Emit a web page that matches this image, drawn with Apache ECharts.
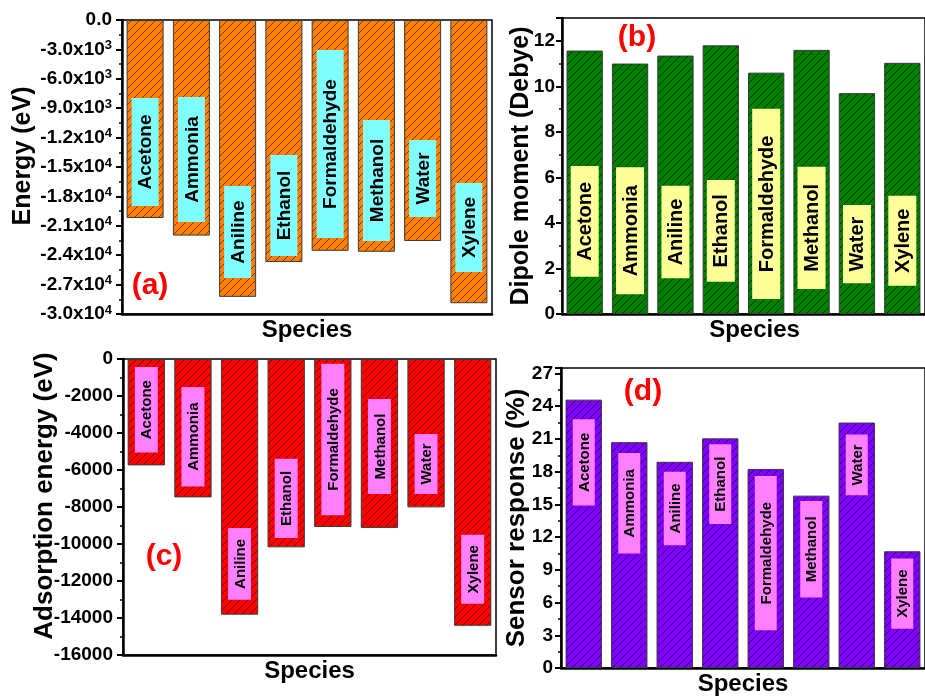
<!DOCTYPE html>
<html><head><meta charset="utf-8">
<script src="https://cdn.jsdelivr.net/npm/echarts@6/dist/echarts.min.js"></script>
<style>html,body{margin:0;padding:0;background:#fff}#c{width:925px;height:698px}</style>
</head><body><div id="c"></div>
<script>
const species = ['Acetone','Ammonia','Aniline','Ethanol','Formaldehyde','Methanol','Water','Xylene'];
// (a) Energy (eV)
const energy = [-20200, -22000, -28250, -24700, -23550, -23650, -22550, -28900];
const energyBoxTop = [-7950, -7860, -16940, -13780, -3060, -10200, -12250, -16630];
const energyBoxBottom = [-18980, -20610, -26330, -24080, -22250, -22550, -20100, -25710];
// (b) Dipole moment (Debye)
const dipole = [11.57, 11.0, 11.35, 11.8, 10.6, 11.6, 9.7, 11.03];
const dipoleBoxTop = [6.5, 6.44, 5.63, 5.89, 9.01, 6.47, 4.79, 5.19];
const dipoleBoxBottom = [1.64, 0.87, 1.57, 1.42, 0.66, 1.1, 1.35, 1.24];
// (c) Adsorption energy (eV)
const adsorption = [-5750, -7480, -13820, -10180, -9080, -9130, -8020, -14420];
const adsBoxTop = [-430, -1510, -9140, -5390, -250, -2160, -4050, -9500];
const adsBoxBottom = [-5050, -6890, -13010, -9680, -8450, -7300, -7300, -13230];
// (d) Sensor response (%)
const sensor = [24.6, 20.7, 18.9, 21.05, 18.25, 15.8, 22.5, 10.7];
const sensorBoxTop = [22.8, 19.7, 18.0, 20.5, 17.6, 15.3, 21.4, 10.04];
const sensorBoxBottom = [14.9, 10.5, 11.26, 13.2, 3.46, 6.46, 15.84, 3.6];

const FONT = 'Liberation Sans, Arial, sans-serif';

function hatch(base, line) {
  const s = 8;
  const c = document.createElement('canvas');
  c.width = s; c.height = s;
  const g = c.getContext('2d');
  g.fillStyle = base; g.fillRect(0, 0, s, s);
  g.strokeStyle = line; g.lineWidth = 1;
  g.beginPath();
  g.moveTo(-1, s + 1); g.lineTo(s + 1, -1);
  g.moveTo(-1, 1); g.lineTo(1, -1);
  g.moveTo(s - 1, s + 1); g.lineTo(s + 1, s - 1);
  g.stroke();
  return { image: c, repeat: 'repeat' };
}

function sciLabel(v) {
  if (v === 0) return '0.0';
  const e = Math.floor(Math.log10(Math.abs(v)) + 1e-9);
  const m = (v / Math.pow(10, e)).toFixed(1);
  return m + 'x10{sup|' + e + '}';
}
function plainLabel(v) { return String(v); }

const tickStyle = { fontSize: 19, fontWeight: 'bold', color: '#000', fontFamily: FONT };

function nameStyle(size, pad) {
  return { fontSize: size, fontWeight: 'bold', color: '#000', fontFamily: FONT, padding: pad || 0 };
}

function yAxis(gi, min, max, interval, name, nameGap, margin, nameSize, namePad, extraLabel) {
  return {
    type: 'value', gridIndex: gi, min: min, max: max, interval: interval,
    name: name, nameLocation: 'middle', nameGap: nameGap, nameRotate: 90,
    nameMoveOverlap: false,
    nameTextStyle: nameStyle(nameSize, namePad),
    axisLine: { show: true, lineStyle: { color: '#000', width: 2.5 } },
    axisTick: { show: true, inside: false, length: 6, lineStyle: { color: '#000', width: 2 } },
    minorTick: { show: true, splitNumber: 2, length: 3, lineStyle: { color: '#000', width: 1.5 } },
    splitLine: { show: false },
    axisLabel: Object.assign({ margin: margin, showMaxLabel: max === 0, formatter: plainLabel }, tickStyle, extraLabel || {})
  };
}

function xAxis(gi, namePad) {
  return {
    type: 'category', gridIndex: gi, data: species, position: 'bottom',
    name: 'Species', nameLocation: 'middle', nameGap: 4,
    nameTextStyle: { fontSize: 24, fontWeight: 'bold', color: '#000', fontFamily: FONT,
      verticalAlign: 'top', padding: namePad || 0 },
    axisLine: { show: true, onZero: false, lineStyle: { color: '#000', width: 2.5 } },
    axisTick: { show: false }, axisLabel: { show: false }, splitLine: { show: false }
  };
}

function barSeries(gi, data, base, line) {
  return {
    type: 'bar', xAxisIndex: gi, yAxisIndex: gi, data: data, barWidth: '80%',
    itemStyle: { color: hatch(base, line), borderColor: '#3a3a3a', borderWidth: 1 },
    silent: true
  };
}

function boxSeries(gi, tops, bottoms, fill, boxW, fontSize) {
  const data = species.map((s, i) => [i, tops[i], bottoms[i], s]);
  return {
    type: 'custom', xAxisIndex: gi, yAxisIndex: gi, data: data, silent: true, z: 5,
    encode: { x: 0, y: [1, 2] },
    renderItem: function (params, api) {
      const p1 = api.coord([api.value(0), api.value(1)]);
      const p2 = api.coord([api.value(0), api.value(2)]);
      const y0 = Math.min(p1[1], p2[1]);
      const h = Math.abs(p2[1] - p1[1]);
      return {
        type: 'group',
        children: [
          { type: 'rect', shape: { x: p1[0] - boxW / 2, y: y0, width: boxW, height: h }, style: { fill: fill } },
          { type: 'text', x: p1[0] + 1, y: y0 + h / 2, rotation: Math.PI / 2,
            style: { text: species[params.dataIndex], align: 'center', verticalAlign: 'middle',
              font: 'bold ' + fontSize + 'px ' + FONT, fill: '#000' } }
        ]
      };
    }
  };
}

const gridBase = { show: true, borderColor: '#000', borderWidth: 1.5, backgroundColor: 'transparent', containLabel: false };

const option = {
  animation: false,
  backgroundColor: '#fff',
  grid: [
    Object.assign({ left: 122, top: 20, width: 370, height: 294 }, gridBase),
    Object.assign({ left: 562, top: 18, width: 370, height: 296 }, gridBase),
    Object.assign({ left: 123, top: 359, width: 373, height: 296 }, gridBase),
    Object.assign({ left: 561, top: 368, width: 375, height: 300 }, gridBase)
  ],
  xAxis: [xAxis(0, [0, 0, 0, 0]), xAxis(1, [0, 0, 0, 22]), xAxis(2), xAxis(3)],
  yAxis: [
    yAxis(0, -30000, 0, 3000, 'Energy (eV)', 86, 10, 25, [0, 0, 0, 22], {
      formatter: sciLabel,
      rich: { sup: { fontSize: 13, fontWeight: 'bold', color: '#000', fontFamily: FONT, verticalAlign: 'top', padding: [0, 0, 8, 0] } }
    }),
    yAxis(1, 0, 13, 2, 'Dipole moment (Debye)', 28, 7, 25, 0),
    yAxis(2, -16000, 0, 2000, 'Adsorption energy (eV)', 65, 10, 26, [0, 0, 0, 22]),
    yAxis(3, 0, 27.5, 3, 'Sensor response (%)', 31, 8, 26, 0)
  ],
  series: [
    barSeries(0, energy, '#FF8000', 'rgba(60,25,0,0.7)'),
    boxSeries(0, energyBoxTop, energyBoxBottom, '#80FFFF', 27, 19),
    barSeries(1, dipole, '#007F00', 'rgba(0,30,0,0.75)'),
    boxSeries(1, dipoleBoxTop, dipoleBoxBottom, '#FFFF99', 28, 20),
    barSeries(2, adsorption, '#FF0000', 'rgba(70,0,0,0.7)'),
    boxSeries(2, adsBoxTop, adsBoxBottom, '#FF80FF', 23, 15),
    barSeries(3, sensor, '#8000FF', 'rgba(20,0,60,0.7)'),
    boxSeries(3, sensorBoxTop, sensorBoxBottom, '#FF80FF', 22, 15)
  ],
  graphic: [
    { type: 'text', x: 150, y: 286, style: { text: '(a)', font: 'bold 30px ' + FONT, fill: '#FF0000', align: 'center', verticalAlign: 'middle' } },
    { type: 'text', x: 637, y: 38, style: { text: '(b)', font: 'bold 30px ' + FONT, fill: '#FF0000', align: 'center', verticalAlign: 'middle' } },
    { type: 'text', x: 164, y: 557, style: { text: '(c)', font: 'bold 30px ' + FONT, fill: '#FF0000', align: 'center', verticalAlign: 'middle' } },
    { type: 'text', x: 643, y: 392, style: { text: '(d)', font: 'bold 30px ' + FONT, fill: '#FF0000', align: 'center', verticalAlign: 'middle' } }
  ]
};

const chart = echarts.init(document.getElementById('c'), null, { renderer: 'canvas' });
chart.setOption(option);
</script>
</body></html>
